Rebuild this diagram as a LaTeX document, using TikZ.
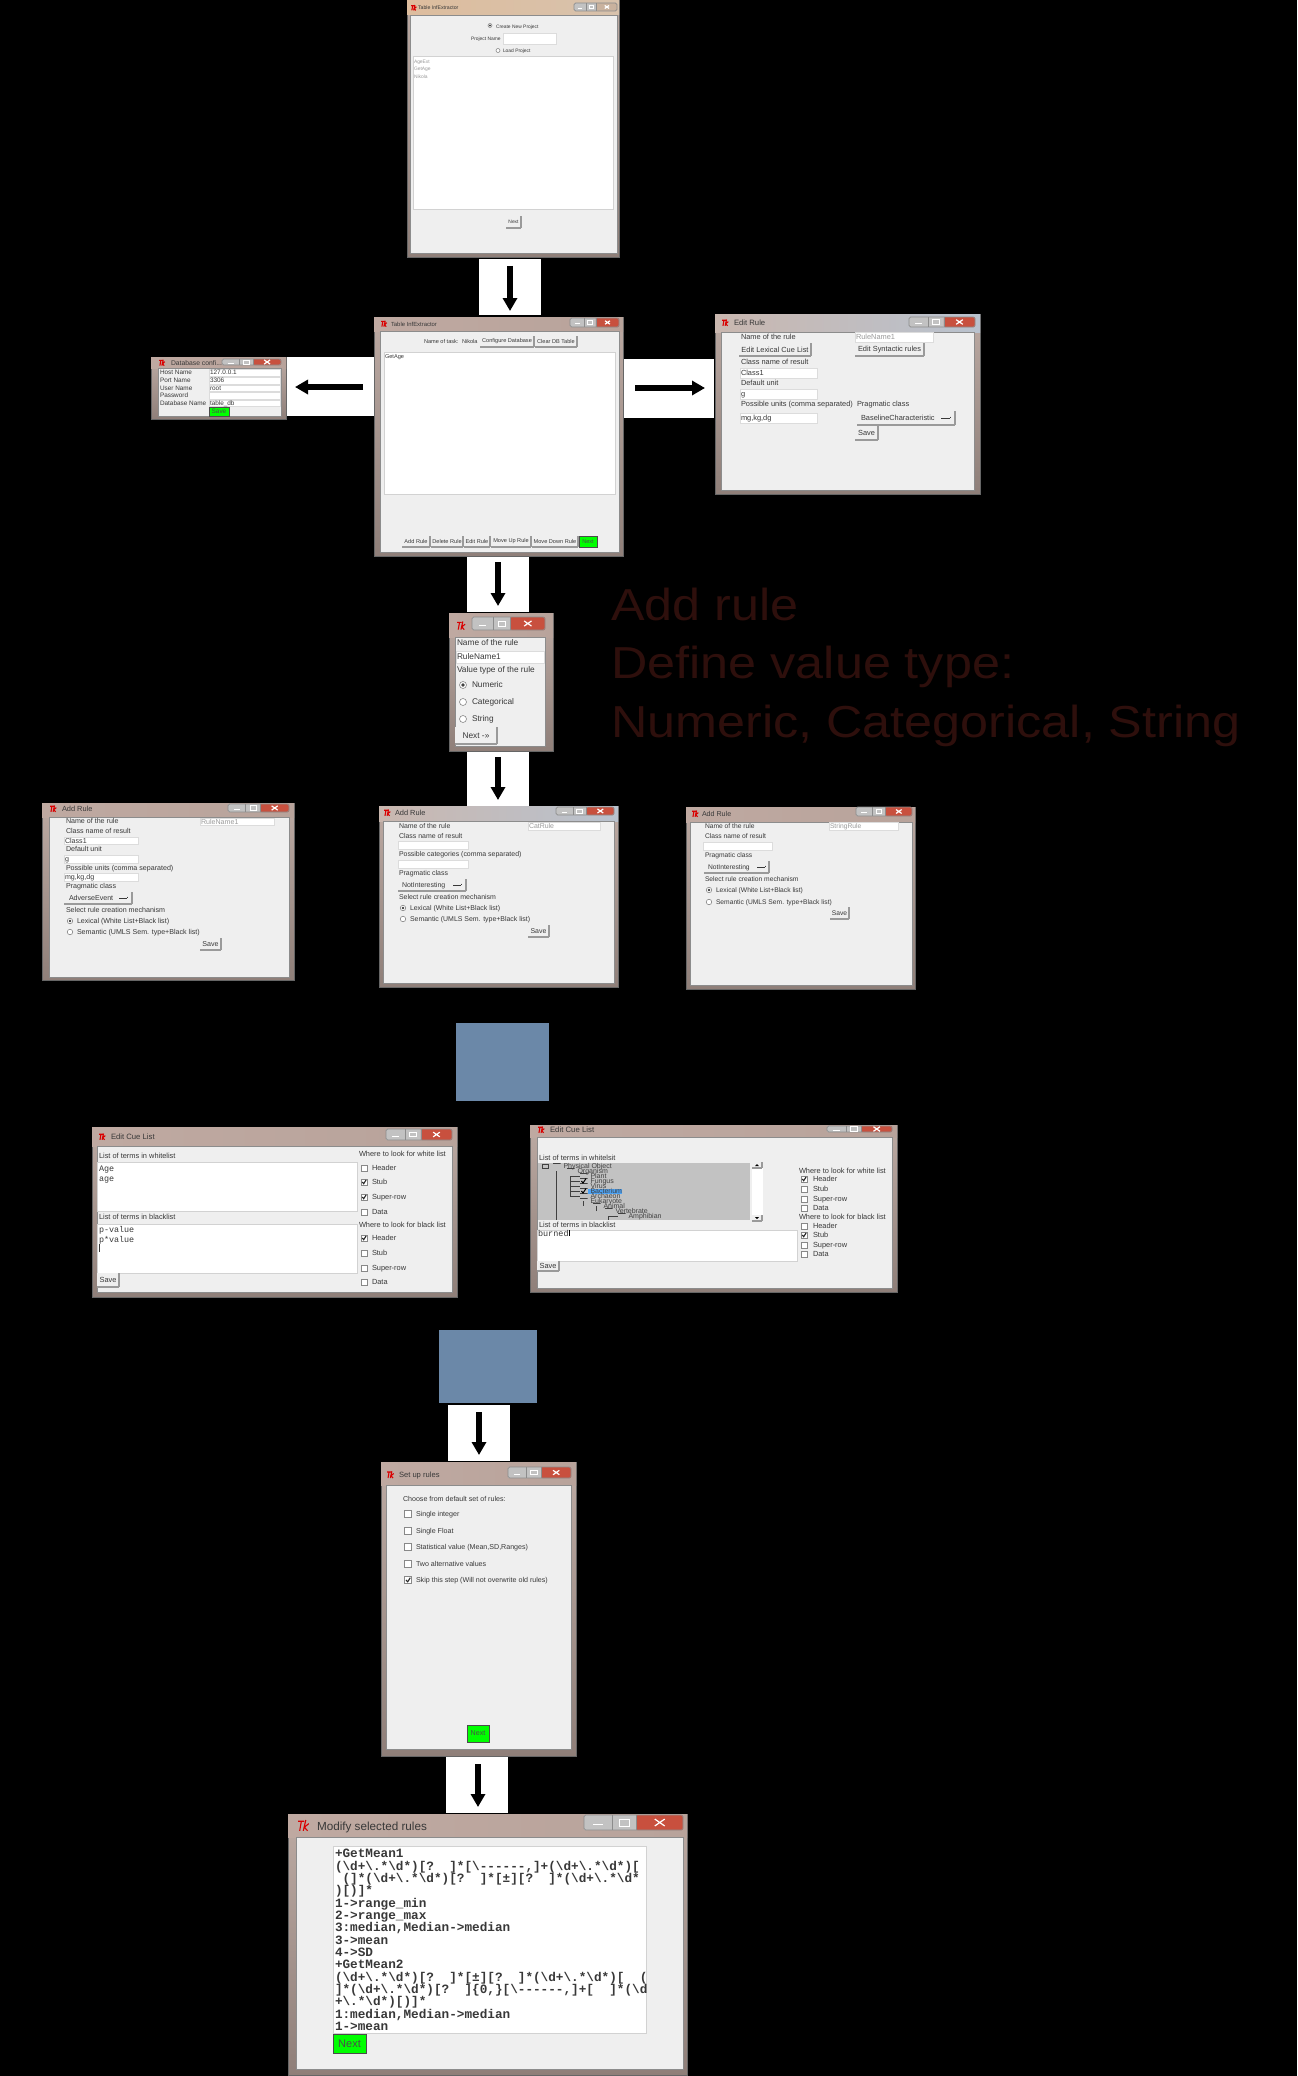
\documentclass[tikz,border=0pt]{standalone}
\usepackage{fontspec}
\setmainfont{Liberation Sans}
\newfontfamily\monoface{Liberation Mono}
\usetikzlibrary{arrows.meta}
\definecolor{uitext}{HTML}{383838}
\definecolor{uigray}{HTML}{9A9A9A}
\definecolor{client}{HTML}{EFEFEF}
\definecolor{edge}{HTML}{9A9A9A}
\definecolor{rulegreen}{HTML}{00FF00}
\definecolor{slate}{HTML}{6B88A8}
\definecolor{headline}{HTML}{2E0F0C}
\definecolor{closered}{HTML}{C8503E}
\definecolor{closetan}{HTML}{C9B29E}
\definecolor{treegray}{HTML}{C2C2C2}
\definecolor{pick}{HTML}{4DA3F5}
\definecolor{framelight}{HTML}{BCAAA3}
\definecolor{framedark}{HTML}{8F7F79}
\definecolor{BFA9A1}{HTML}{BFA9A1}\definecolor{D4C5BE}{HTML}{D4C5BE}\definecolor{B8A39B}{HTML}{B8A39B}
\definecolor{DDBD9E}{HTML}{DDBD9E}\definecolor{E9D5C4}{HTML}{E9D5C4}\definecolor{D8C2AC}{HTML}{D8C2AC}
\definecolor{C9B7AF}{HTML}{C9B7AF}\definecolor{BLU}{HTML}{5B80B0}\definecolor{B9C2CE}{HTML}{B9C2CE}
\newcount\rescount
\newcommand{\stepres}{\global\advance\rescount by 1\relax}
\newcommand{\setfs}[1]{\pgfmathsetmacro\fsz{#1/2}}
\newcommand{\uifont}{\fontsize{\fsz pt}{\fsz pt}\selectfont}
\def\fsz{3}
\def\wtone{framegray}
\tikzset{
  lbl/.style={font=\uifont,inner sep=0pt,outer sep=0pt,anchor=base west},
  boxbase/.style={anchor=north west,inner sep=0pt,outer sep=0pt,font=\uifont,text=uitext},
  entrybox/.style={boxbase,fill=white,draw=client!92!black,line width=.3pt},
  listbox/.style={boxbase,fill=white,draw=client!88!black,line width=.5pt},
  raised/.style={draw=edge,line width=.55pt},
  btn/.style={boxbase,fill=client,append after command={
     (\tikzlastnode.south west) edge[raised] (\tikzlastnode.south east)
     (\tikzlastnode.south east) edge[raised] (\tikzlastnode.north east)}},
  gobtn/.style={boxbase,fill=rulegreen,draw=black!70,line width=.5pt,text=black!70},
  whitepad/.style={boxbase,fill=white},
  slatebox/.style={boxbase,fill=slate},
  flow/.style={line width=2.8pt,-{Triangle[length=6.5pt,width=7pt]},black},
  framegray/.style={left color=BFA9A1,middle color=D4C5BE,right color=B8A39B},
  frametan/.style={left color=DDBD9E,middle color=E9D5C4,right color=D8C2AC},
  frameblue/.style={left color=C9B7AF,middle color=BLU,right color=B9C2CE},
  radiomark/.style={circle,draw=uitext!60,fill=white,line width=.3pt,inner sep=0pt},
  checkmark/.style={draw=uitext!60,fill=white,line width=.35pt,inner sep=0pt,rectangle},
  treebox/.style={boxbase,draw=black!75,line width=.45pt,fill=treegray},
  treeline/.style={draw=black!75,line width=.5pt}
}
% [style]{x0}{y0}{x1}{y1}{text}
\newcommand{\bx}[6][btn]{\stepres\pgfmathsetmacro\bw{(#4-#2)*.5}\pgfmathsetmacro\bh{(#5-#3)*.5}%
  \node[#1,minimum width=\bw pt,minimum height=\bh pt] (n\the\rescount) at (#2,#3) {#6};}
\newcommand{\lb}[4][uitext]{\stepres\pgfmathsetmacro\ly{#3+.72*\fsz}\node[lbl,text=#1] (n\the\rescount) at (#2,\ly) {#4};}
% {name}{x0}{y0}{x1}{y1}{cx0}{cy0}{cx1}{cy1}
\newcommand{\win}[9]{%
  \pgfmathsetmacro\bw{(#4-#2)*.5}\pgfmathsetmacro\bh{(#5-#3)*.5}%
  \node[anchor=north west,inner sep=0pt,outer sep=0pt,minimum width=\bw pt,minimum height=\bh pt,
    top color=framelight,bottom color=framedark,draw=black!60,line width=.4pt] (#1) at (#2,#3) {};
  \pgfmathsetmacro\bh{(#7-#3)*.5}%
  \node[anchor=north west,inner sep=0pt,outer sep=0pt,minimum width=\bw pt,minimum height=\bh pt,\wtone] (#1-bar) at (#2,#3) {};
  \pgfmathsetmacro\bw{(#8-#6)*.5}\pgfmathsetmacro\bh{(#9-#7)*.5}%
  \node[anchor=north west,inner sep=0pt,outer sep=0pt,minimum width=\bw pt,minimum height=\bh pt,
    fill=client,draw=black!45,line width=.35pt] (#1-body) at (#6,#7) {};}
% {x0}{y0}{x1}{y1}{close colour}
\newcommand{\wctrl}[5]{\pgfmathsetmacro\xa{#1+(#3-#1)*.29}\pgfmathsetmacro\xb{#1+(#3-#1)*.53}%
  \fill[client!60!gray,rounded corners=.5pt] (#1,#2) rectangle (\xb,#4);
  \fill[#5,rounded corners=.5pt] (\xb,#2) rectangle (#3,#4);
  \draw[black!45,line width=.3pt,rounded corners=.8pt] (#1,#2) rectangle (#3,#4);
  \draw[black!45,line width=.3pt] (\xa,#2) -- (\xa,#4) (\xb,#2) -- (\xb,#4);
  \pgfmathsetmacro\ym{(#2+#4)/2}\pgfmathsetmacro\xc{(#1+\xa)/2}\pgfmathsetmacro\xd{(\xa+\xb)/2}\pgfmathsetmacro\xe{(\xb+#3)/2}\pgfmathsetmacro\hw{(#3-#1)*.05}%
  \draw[white,line width=.5pt] (\xc-\hw,\ym+\hw*.5) -- (\xc+\hw,\ym+\hw*.5);
  \draw[white,line width=.4pt] (\xd-\hw,\ym-\hw*.7) rectangle (\xd+\hw,\ym+\hw*.7);
  \draw[white,line width=.6pt] (\xe-\hw,\ym-\hw*.7) -- (\xe+\hw,\ym+\hw*.7) (\xe-\hw,\ym+\hw*.7) -- (\xe+\hw,\ym-\hw*.7);}
% {x}{y centre}{size}
\newcommand{\wicon}[3]{\begin{scope}[shift={(#1,#2)},x=#3*.05pt,y=-#3*.05pt]
  \draw[red!85!black,line width=.55pt] (0,-4) -- (5,-4) (2.8,-4) -- (1.4,4) (6.5,-5) -- (4.4,4) (9,-2) -- (5.3,1) -- (8,4);
  \end{scope}}
\newcommand{\radio}[3]{\stepres\node[radiomark,minimum size=#3*.5pt] (n\the\rescount) at (#1,#2) {};}
\newcommand{\radioon}[3]{\stepres\node[radiomark,minimum size=#3*.5pt] (n\the\rescount) at (#1,#2) {};\fill[black!75] (#1,#2) circle (#3*.13pt);}
\newcommand{\chk}[3]{\stepres\node[checkmark,minimum size=#3*.5pt] (n\the\rescount) at (#1,#2) {};}
\newcommand{\chkon}[3]{\chk{#1}{#2}{#3}\draw[black!85,line width=.55pt] (#1-#3*.3,#2) -- (#1-#3*.05,#2+#3*.28) -- (#1+#3*.35,#2-#3*.35);}
\newcommand{\bs}{\textbackslash{}}
\newcommand{\treenode}[3]{\bx[treebox]{#1}{#2-2.5}{#1+7.5}{#2+2.5}{}\lb[black!75]{#1+10.5}{#2}{#3}}
\newcommand{\headtext}[3]{\node[anchor=base west,inner sep=0pt,text=headline,font=\fontsize{22.4pt}{22.4pt}\selectfont] (#1) at (611,#2) {\scalebox{1.123}[1]{#3}};}
\newcommand{\mlb}[2]{\lb{335}{#1}{\monoface\bfseries #2}}
\begin{document}
\begin{tikzpicture}[x=.5pt,y=-.5pt]
\useasboundingbox[fill=black] (0,0) rectangle (1297,2076);

% white pads behind arrows
\bx[whitepad]{479}{259}{541}{315}{}
\bx[whitepad]{287}{357}{374}{416}{}
\bx[whitepad]{624}{359}{714}{418}{}
\bx[whitepad]{467}{556}{529}{612}{}
\bx[whitepad]{467}{751}{529}{806}{}
\bx[whitepad]{448}{1405}{510}{1461}{}
\bx[whitepad]{446}{1757}{508}{1813}{}

% ---------- Table InfExtractor (start)
\def\wtone{frametan}
\win{start}{407}{0}{619}{257}{410}{15}{617}{253}
\wicon{411}{8}{6}\wctrl{574}{3}{617}{11}{closetan}
\setfs{5.2}\lb{418}{8}{Table InfExtractor}
\setfs{4.9}
\radioon{490}{25.5}{4}\lb{496}{26.5}{Create New Project}
\lb{471}{39}{Project Name}\bx[entrybox]{503}{33}{556}{44}{}
\radio{498}{50.5}{4}\lb{503}{51}{Load Project}
\bx[listbox]{413}{57}{613}{210}{}
\lb[uigray]{414}{62}{AgeExt}\lb[uigray]{414}{69}{GetAge}\lb[uigray]{414}{77}{Nikola}
\bx{506}{216}{521}{228}{Next}

% ---------- Table InfExtractor (main)
\def\wtone{framegray}
\win{main}{374}{317}{623}{556}{380}{331}{619}{552}
\wicon{381}{324}{6.5}\wctrl{570}{318}{619}{327}{closered}
\setfs{5.9}\lb{391}{324}{Table InfExtractor}
\setfs{5.6}
\lb{424}{341}{Name of task:}\lb{462}{341}{Nikola}
\bx{480}{336}{534}{347}{Configure Database}
\bx{535}{336}{577}{347}{Clear DB Table}
\bx[listbox]{384}{352}{615}{494}{}
\lb{385}{356}{GetAge}
\bx{402}{536}{430}{547}{Add Rule}
\bx{431}{536}{463}{547}{Delete Rule}
\bx{464}{536}{490}{547}{Edit Rule}
\bx{491}{536}{531}{547}{Move Up Rule}
\bx{532}{536}{578}{547}{Move Down Rule}
\bx[gobtn]{579}{536}{597}{547}{Next}

% ---------- Database config
\win{dbconf}{151}{357}{286}{419}{158}{368}{281}{416}
\wicon{159}{363}{6.5}\wctrl{222}{359}{281}{365}{closered}
\setfs{6.8}\lb{171}{363}{Database confi...}
\setfs{6.4}
\lb{160}{372}{Host Name}\lb{160}{380}{Port Name}\lb{160}{388}{User Name}\lb{160}{395}{Password}\lb{160}{403}{Database Name}
\bx[entrybox]{209}{369}{280}{376}{}\lb{210}{372}{127.0.0.1}
\bx[entrybox]{209}{377}{280}{384}{}\lb{210}{380}{3306}
\bx[entrybox]{209}{385}{280}{391}{}\lb{210}{388}{root}
\bx[entrybox]{209}{392}{280}{399}{}
\bx[entrybox]{209}{400}{280}{406}{}\lb{210}{403}{table\_db}
\bx[gobtn]{209}{407}{229}{416}{Save}

% ---------- Edit Rule
\def\wtone{frameblue}
\win{editrule}{715}{314}{980}{494}{721}{332}{974}{490}
\wicon{722}{323}{7}\wctrl{909}{317}{975}{327}{closered}
\setfs{7.7}\lb{734}{323}{Edit Rule}
\setfs{7.4}
\lb{741}{337}{Name of the rule}
\bx[entrybox]{855}{332}{933}{342}{}\lb[uigray]{856}{337}{RuleName1}
\bx{739}{343}{811}{356}{Edit Lexical Cue List}
\bx{855}{343}{924}{356}{Edit Syntactic rules}
\lb{741}{362}{Class name of result}
\bx[entrybox]{740}{368}{817}{378}{}\lb{741}{373}{Class1}
\lb{741}{383}{Default unit}
\bx[entrybox]{740}{389}{817}{399}{}\lb{741}{394}{g}
\lb{741}{404}{Possible units (comma separated)}
\lb{857}{404}{Pragmatic class}
\bx[entrybox]{740}{413}{817}{423}{}\lb{741}{418}{mg,kg,dg}
\bx{857}{411}{955}{425}{}\lb{861}{418}{BaselineCharacteristic}
\draw[uitext,line width=.5pt] (941,418) -- (950,418) (950,416.5) -- (950,418);
\bx{855}{426}{878}{440}{Save}

% ---------- Value type dialog
\def\wtone{framegray}
\win{valtype}{449}{613}{553}{751}{455}{637}{545}{746}
\wicon{457}{626}{9}\wctrl{472}{617}{545}{630}{closered}
\setfs{8.3}
\lb{457}{643}{Name of the rule}
\bx[entrybox]{456}{651}{544}{663}{}\lb{457}{657}{RuleName1}
\lb{457}{670}{Value type of the rule}
\radioon{463}{685}{7}\lb{472}{685}{Numeric}
\radio{463}{702}{7}\lb{472}{702}{Categorical}
\radio{463}{719}{7}\lb{472}{719}{String}
\bx{455}{727}{497}{744}{Next ->>}

% ---------- Add Rule 1
\win{addnum}{42}{803}{294}{980}{49}{817}{289}{977}
\wicon{50}{809}{7}\wctrl{228}{804}{289}{812}{closered}
\setfs{7.4}\lb{62}{809}{Add Rule}
\setfs{7.1}
\lb{66}{821}{Name of the rule}
\bx[entrybox]{200}{818}{274}{825}{}\lb[uigray]{201}{821.5}{RuleName1}
\lb{66}{831}{Class name of result}
\bx[entrybox]{64}{837}{138}{844}{}\lb{65}{840.5}{Class1}
\lb{66}{849}{Default unit}
\bx[entrybox]{64}{855}{138}{863}{}\lb{65}{859}{g}
\lb{66}{868}{Possible units (comma separated)}
\bx[entrybox]{64}{873}{138}{881}{}\lb{65}{877}{mg,kg,dg}
\lb{66}{886}{Pragmatic class}
\bx{64}{892}{132}{904}{}\lb{69}{898}{AdverseEvent}
\draw[uitext,line width=.5pt] (119,898) -- (127,898) (127,896.5) -- (127,898);
\lb{66}{910}{Select rule creation mechanism}
\radioon{70}{921}{5.5}\lb{77}{921}{Lexical (White List+Black list)}
\radio{70}{932}{5.5}\lb{77}{932}{Semantic (UMLS Sem. type+Black list)}
\bx{200}{938}{221}{950}{Save}

% ---------- Add Rule 2
\def\wtone{frameblue}
\win{addcat}{379}{806}{618}{987}{383}{821}{614}{983}
\wicon{384}{813}{7}\wctrl{556}{807}{614}{815}{closered}
\setfs{7.4}\lb{395}{813}{Add Rule}
\setfs{6.95}
\lb{399}{826}{Name of the rule}
\bx[entrybox]{528}{822}{600}{830}{}\lb[uigray]{529}{826}{CatRule}
\lb{399}{836}{Class name of result}
\bx[entrybox]{398}{841}{468}{849}{}
\lb{399}{854}{Possible categories (comma separated)}
\bx[entrybox]{398}{860}{468}{868}{}
\lb{399}{873}{Pragmatic class}
\bx{398}{879}{466}{891}{}\lb{402}{885}{NotInteresting}
\draw[uitext,line width=.5pt] (453,885) -- (461,885) (461,883.5) -- (461,885);
\lb{399}{897}{Select rule creation mechanism}
\radioon{403}{908}{5.5}\lb{410}{908}{Lexical (White List+Black list)}
\radio{403}{919}{5.5}\lb{410}{919}{Semantic (UMLS Sem. type+Black list)}
\bx{528}{925}{549}{937}{Save}

% ---------- Add Rule 3
\def\wtone{framegray}
\win{addstr}{686}{807}{915}{989}{690}{822}{912}{985}
\wicon{692}{814}{7}\wctrl{856}{807}{912}{816}{closered}
\setfs{7.1}\lb{702}{814}{Add Rule}
\setfs{6.7}
\lb{705}{826}{Name of the rule}
\bx[entrybox]{829}{822}{898}{830}{}\lb[uigray]{830}{826}{StringRule}
\lb{705}{836}{Class name of result}
\bx[entrybox]{703}{842}{772}{850}{}
\lb{705}{855}{Pragmatic class}
\bx{704}{861}{769}{873}{}\lb{708}{867}{NotInteresting}
\draw[uitext,line width=.5pt] (757,867) -- (765,867) (765,865.5) -- (765,867);
\lb{705}{879}{Select rule creation mechanism}
\radioon{709}{890}{5.5}\lb{716}{890}{Lexical (White List+Black list)}
\radio{709}{902}{5.5}\lb{716}{902}{Semantic (UMLS Sem. type+Black list)}
\bx{830}{907}{849}{919}{Save}

% ---------- slate boxes
\bx[slatebox]{456}{1023}{549}{1101}{}
\bx[slatebox]{439}{1330}{537}{1403}{}

% ---------- Edit Cue List 1
\win{cueone}{92}{1127}{457}{1297}{97}{1146}{452}{1292}
\wicon{99}{1137}{7}\wctrl{386}{1129}{452}{1140}{closered}
\setfs{7.7}\lb{111}{1137}{Edit Cue List}
\setfs{7.4}
\lb{99}{1156}{List of terms in whitelist}
\bx[listbox]{97}{1162}{357}{1211}{}
\lb{99}{1217}{List of terms in blacklist}
\bx[listbox]{97}{1224}{357}{1273}{}
\bx{97}{1273}{119}{1287}{Save}
\lb{359}{1154}{Where to look for white list}
\chk{364}{1168}{6}\lb{372}{1168}{Header}
\chkon{364}{1182}{6}\lb{372}{1182}{Stub}
\chkon{364}{1197}{6}\lb{372}{1197}{Super-row}
\chk{364}{1212}{6}\lb{372}{1212}{Data}
\lb{359}{1225}{Where to look for black list}
\chkon{364}{1238}{6}\lb{372}{1238}{Header}
\chk{364}{1253}{6}\lb{372}{1253}{Stub}
\chk{364}{1268}{6}\lb{372}{1268}{Super-row}
\chk{364}{1282}{6}\lb{372}{1282}{Data}
\setfs{8.4}
\lb{99}{1168}{\monoface Age}\lb{99}{1178}{\monoface age}
\lb{99}{1229}{\monoface p-value}\lb{99}{1239}{\monoface p*value}
\draw[uitext,line width=.3pt] (99,1244) -- (99,1252);

% ---------- Edit Cue List 2
\win{cuetwo}{530}{1125}{897}{1292}{537}{1137}{892}{1288}
\wicon{538}{1130}{7}\wctrl{827}{1126}{892}{1132}{closered}
\setfs{7.8}\lb{550}{1130}{Edit Cue List}
\setfs{7.4}
\lb{539}{1158}{List of terms in whitelsit}
\bx[boxbase,fill=treegray]{538}{1163}{750}{1220}{}
\bx[boxbase,fill=white]{752}{1162}{763}{1221}{}
\bx[btn]{752}{1162}{762}{1168}{}\bx[btn]{752}{1215}{762}{1221}{}
\fill[black] (755,1166) -- (759,1166) -- (757,1164) -- cycle;
\fill[black] (755,1217) -- (759,1217) -- (757,1219) -- cycle;
\draw[treeline] (556,1171) -- (556,1220) (570,1176) -- (570,1196) (570,1181) -- (580,1181) (570,1176) -- (580,1176) (570,1186) -- (580,1186) (570,1191) -- (580,1191) (570,1196) -- (580,1196) (583,1201) -- (583,1206) (596,1211) -- (596,1206) (608,1216) -- (608,1220) (608,1216) -- (618,1216);
\bx[treebox]{542}{1164}{548}{1168}{}
\setfs{7}
\treenode{553}{1166}{Physical Object}
\treenode{567}{1171}{Organism}
\treenode{580}{1176}{Plant}
\treenode{580}{1181}{Fungus}
\treenode{580}{1186}{Virus}
\bx[boxbase,fill=pick]{588}{1188.5}{622}{1193.5}{}
\treenode{580}{1191}{Bacterium}
\treenode{580}{1196}{Archaeon}
\treenode{580}{1201}{Eukaryote}
\treenode{593}{1206}{Animal}
\treenode{605}{1211}{Vertebrate}
\treenode{618}{1216}{Amphibian}
\draw[black,line width=.5pt] (581.5,1181) -- (583,1183) -- (586,1178.5) (581.5,1191) -- (583,1193) -- (586,1188.5);
\setfs{7.4}
\lb{539}{1225}{List of terms in blacklist}
\bx[listbox]{537}{1230}{797}{1261}{}
\bx{537}{1261}{559}{1271}{Save}
\lb{799}{1171}{Where to look for white list}
\chkon{804}{1179}{6}\lb{813}{1179}{Header}
\chk{804}{1189}{6}\lb{813}{1189}{Stub}
\chk{804}{1199}{6}\lb{813}{1199}{Super-row}
\chk{804}{1208}{6}\lb{813}{1208}{Data}
\lb{799}{1217}{Where to look for black list}
\chk{804}{1226}{6}\lb{813}{1226}{Header}
\chkon{804}{1235}{6}\lb{813}{1235}{Stub}
\chk{804}{1245}{6}\lb{813}{1245}{Super-row}
\chk{804}{1254}{6}\lb{813}{1254}{Data}
\setfs{8.5}\lb{538}{1233}{\monoface burned}
\draw[black,line width=.5pt] (569,1230) -- (569,1236);

% ---------- Set up rules
\win{setup}{381}{1462}{576}{1756}{386}{1485}{571}{1749}
\wicon{387}{1475}{7.5}\wctrl{508}{1467}{571}{1478}{closered}
\setfs{7.6}\lb{399}{1475}{Set up rules}
\setfs{7.1}
\lb{403}{1499}{Choose from default set of rules:}
\chk{408}{1514}{6.5}\lb{416}{1514}{Single integer}
\chk{408}{1531}{6.5}\lb{416}{1531}{Single Float}
\chk{408}{1547}{6.5}\lb{416}{1547}{Statistical value (Mean,SD,Ranges)}
\chk{408}{1564}{6.5}\lb{416}{1564}{Two alternative values}
\chkon{408}{1580}{6.5}\lb{416}{1580}{Skip this step (Will not overwrite old rules)}
\bx[gobtn]{467}{1725}{489}{1742}{Next}

% ---------- Modify selected rules
\win{modify}{288}{1814}{687}{2075}{296}{1837}{683}{2069}
\wicon{298}{1826}{12}\wctrl{584}{1815}{683}{1830}{closered}
\setfs{11.7}\lb{317}{1826}{Modify selected rules}
\bx[listbox]{333}{1846}{646}{2033}{}
\setfs{12.7}
\mlb{1853}{+GetMean1}
\mlb{1866}{(\bs d+\bs.*\bs d*)[?~~]*[\bs------,]+(\bs d+\bs.*\bs d*)[}
\mlb{1878}{~(]*(\bs d+\bs.*\bs d*)[?~~]*[±][?~~]*(\bs d+\bs.*\bs d*}
\mlb{1890}{)[)]*}
\mlb{1903}{1->range\_min}
\mlb{1915}{2->range\_max}
\mlb{1927}{3:median,Median->median}
\mlb{1940}{3->mean}
\mlb{1952}{4->SD}
\mlb{1964}{+GetMean2}
\mlb{1977}{(\bs d+\bs.*\bs d*)[?~~]*[±][?~~]*(\bs d+\bs.*\bs d*)[~~(}
\mlb{1989}{]*(\bs d+\bs.*\bs d*)[?~~]\{0,\}[\bs------,]+[~~]*(\bs d}
\mlb{2001}{+\bs.*\bs d*)[)]*}
\mlb{2014}{1:median,Median->median}
\mlb{2026}{1->mean}
\setfs{11}
\bx[gobtn]{333}{2034}{366}{2053}{Next}

% ---------- heading
\headtext{head1}{620}{Add rule}
\headtext{head2}{678}{Define value type:}
\headtext{head3}{737}{Numeric, Categorical, String}

% ---------- arrows
\coordinate (a1s) at (510,266);\coordinate (a1e) at (510,311);
\coordinate (a2s) at (363,387);\coordinate (a2e) at (295,387);
\coordinate (a3s) at (635,388);\coordinate (a3e) at (705,388);
\coordinate (a4s) at (498,562);\coordinate (a4e) at (498,606);
\coordinate (a5s) at (498,757);\coordinate (a5e) at (498,800);
\coordinate (a6s) at (479,1412);\coordinate (a6e) at (479,1455);
\coordinate (a7s) at (478,1764);\coordinate (a7e) at (478,1807);
\draw[flow] (a1s) -- (a1e);
\draw[flow] (a2s) -- (a2e);
\draw[flow] (a3s) -- (a3e);
\draw[flow] (a4s) -- (a4e);
\draw[flow] (a5s) -- (a5e);
\draw[flow] (a6s) -- (a6e);
\draw[flow] (a7s) -- (a7e);
\end{tikzpicture}
\end{document}
